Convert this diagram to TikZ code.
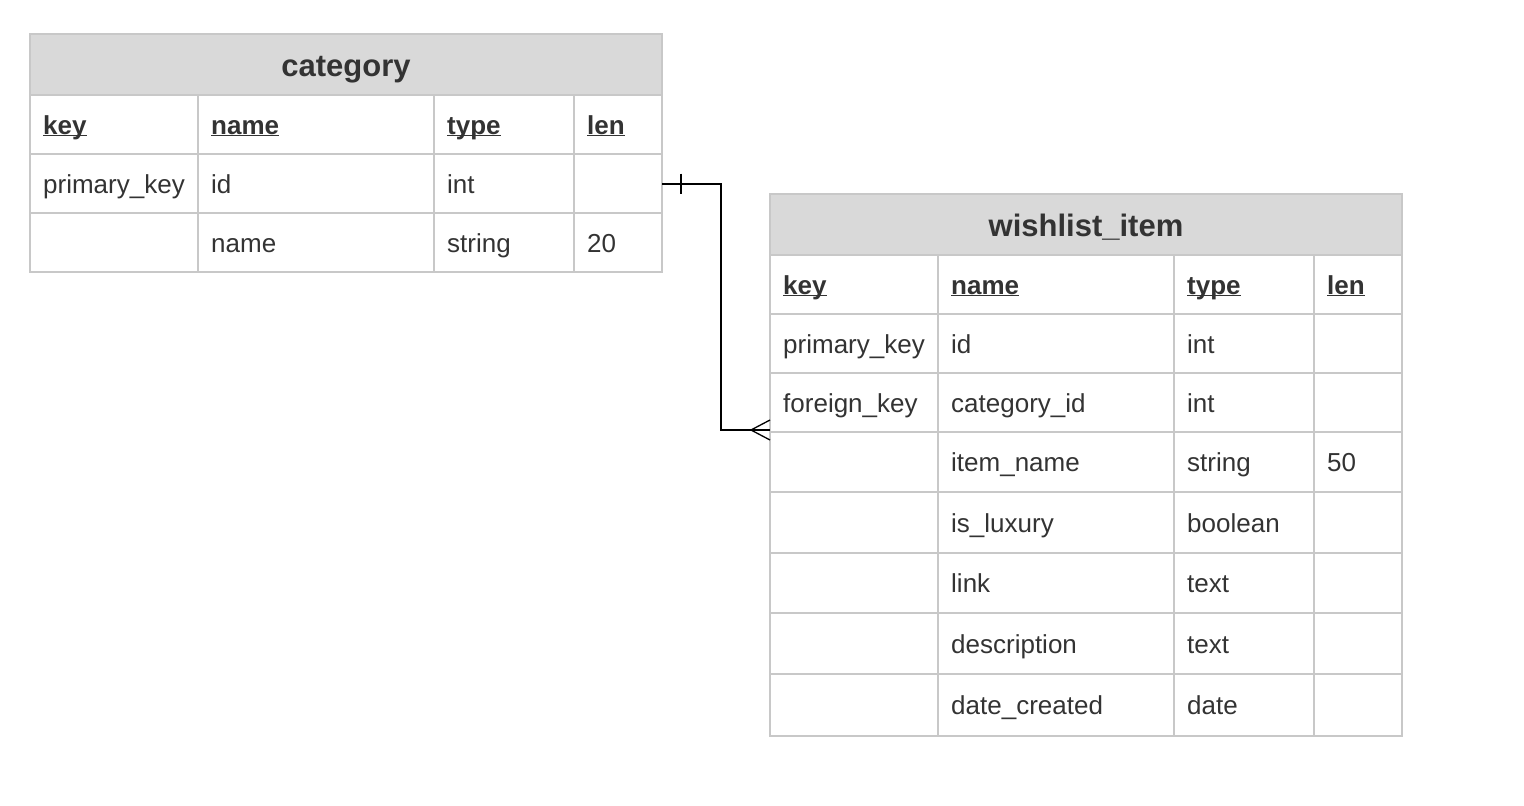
\documentclass[tikz,border=0pt]{standalone}
\usepackage{fontspec}
\setmainfont{Liberation Sans}
\usetikzlibrary{calc}
\definecolor{bordergray}{RGB}{200,200,200}
\definecolor{hdrgray}{RGB}{217,217,217}
\definecolor{txtgray}{RGB}{51,51,51}
\tikzset{
  cellbox/.style={draw=bordergray, line width=2pt, inner sep=0pt, outer sep=0pt},
  hdrbox/.style={cellbox, fill=hdrgray},
  celltxt/.style={anchor=base west, inner sep=0pt, text=txtgray, font=\fontsize{26}{30}\selectfont},
  hdrtxt/.style={anchor=base, inner sep=0pt, text=txtgray, font=\fontsize{31}{36}\selectfont\bfseries},
  conn/.style={draw=black, line width=2pt},
  crow/.style={draw=black, line width=1.3pt},
}
\newcommand\erdcell[6]{%
  \node[cellbox, minimum width={(#4-#2)*1pt}, minimum height={(#5-#3)*1pt}] (#1) at ({(#2+#4)/2},{(#3+#5)/2}) {};
  \node[celltxt] (#1t) at ([xshift=13pt,yshift=-9.5pt]#1.west) {#6};}
\newcommand\erdhead[1]{\bfseries\underline{\smash{#1}}}
\begin{document}
\begin{tikzpicture}[x=1pt,y=-1pt]
\useasboundingbox (0,0) rectangle (1524,806);
% ---------- category ----------
\node[hdrbox, minimum width=632pt, minimum height=61pt] (cathdr) at (346,64.5) {};
\node[hdrtxt] (cathdrt) at ([yshift=-11.5pt]cathdr.center) {category};
\erdcell{c1a}{30}{95}{198}{154}{\erdhead{key}}
\erdcell{c1b}{198}{95}{434}{154}{\erdhead{name}}
\erdcell{c1c}{434}{95}{574}{154}{\erdhead{type}}
\erdcell{c1d}{574}{95}{662}{154}{\erdhead{len}}
\erdcell{c2a}{30}{154}{198}{213}{primary\_key}
\erdcell{c2b}{198}{154}{434}{213}{id}
\erdcell{c2c}{434}{154}{574}{213}{int}
\erdcell{c2d}{574}{154}{662}{213}{}
\erdcell{c3a}{30}{213}{198}{272}{}
\erdcell{c3b}{198}{213}{434}{272}{name}
\erdcell{c3c}{434}{213}{574}{272}{string}
\erdcell{c3d}{574}{213}{662}{272}{20}
% ---------- wishlist_item ----------
\node[hdrbox, minimum width=632pt, minimum height=61pt] (wihdr) at (1086,224.5) {};
\node[hdrtxt] (wihdrt) at ([yshift=-11.5pt]wihdr.center) {wishlist\_item};
\erdcell{w1a}{770}{255}{938}{314}{\erdhead{key}}
\erdcell{w1b}{938}{255}{1174}{314}{\erdhead{name}}
\erdcell{w1c}{1174}{255}{1314}{314}{\erdhead{type}}
\erdcell{w1d}{1314}{255}{1402}{314}{\erdhead{len}}
\erdcell{w2a}{770}{314}{938}{373}{primary\_key}
\erdcell{w2b}{938}{314}{1174}{373}{id}
\erdcell{w2c}{1174}{314}{1314}{373}{int}
\erdcell{w2d}{1314}{314}{1402}{373}{}
\erdcell{w3a}{770}{373}{938}{432}{foreign\_key}
\erdcell{w3b}{938}{373}{1174}{432}{category\_id}
\erdcell{w3c}{1174}{373}{1314}{432}{int}
\erdcell{w3d}{1314}{373}{1402}{432}{}
\erdcell{w4a}{770}{432}{938}{492}{}
\erdcell{w4b}{938}{432}{1174}{492}{item\_name}
\erdcell{w4c}{1174}{432}{1314}{492}{string}
\erdcell{w4d}{1314}{432}{1402}{492}{50}
\erdcell{w5a}{770}{492}{938}{553}{}
\erdcell{w5b}{938}{492}{1174}{553}{is\_luxury}
\erdcell{w5c}{1174}{492}{1314}{553}{boolean}
\erdcell{w5d}{1314}{492}{1402}{553}{}
\erdcell{w6a}{770}{553}{938}{613}{}
\erdcell{w6b}{938}{553}{1174}{613}{link}
\erdcell{w6c}{1174}{553}{1314}{613}{text}
\erdcell{w6d}{1314}{553}{1402}{613}{}
\erdcell{w7a}{770}{613}{938}{674}{}
\erdcell{w7b}{938}{613}{1174}{674}{description}
\erdcell{w7c}{1174}{613}{1314}{674}{text}
\erdcell{w7d}{1314}{613}{1402}{674}{}
\erdcell{w8a}{770}{674}{938}{736}{}
\erdcell{w8b}{938}{674}{1174}{736}{date\_created}
\erdcell{w8c}{1174}{674}{1314}{736}{date}
\erdcell{w8d}{1314}{674}{1402}{736}{}
% ---------- relationship ----------
\coordinate (fkend) at ([yshift=2pt]w3a.south west);
\draw[conn] (c2d.east) -- ++(59,0) |- (fkend);
\draw[crow] ([xshift=19pt,yshift=10pt]c2d.east) -- ([xshift=19pt,yshift=-10pt]c2d.east);
\draw[crow] ([yshift=10pt]fkend) -- ([xshift=-19pt]fkend) -- ([yshift=-10pt]fkend);
\end{tikzpicture}
\end{document}
